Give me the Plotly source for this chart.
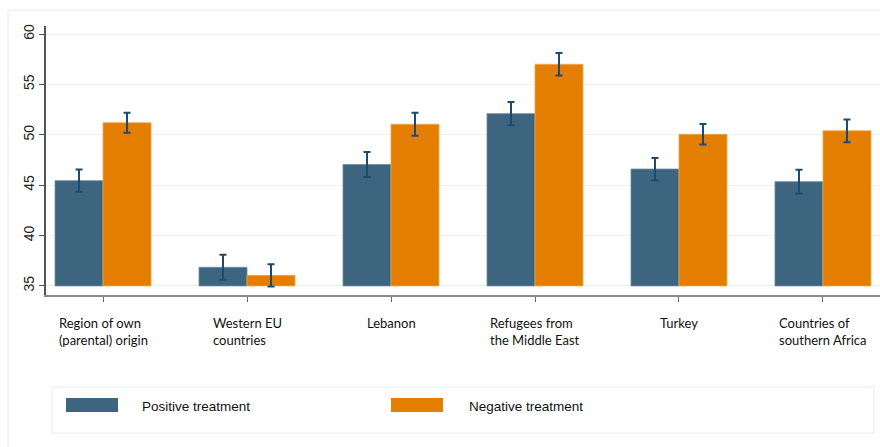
import plotly.graph_objects as go

# Survey categories (x axis) and series
categories = [
    "Region of own<br>(parental) origin",
    "Western EU<br>countries",
    "Lebanon",
    "Refugees from<br>the Middle East",
    "Turkey",
    "Countries of<br>southern Africa",
]
series_names = ["Positive treatment", "Negative treatment"]

positive_mean = [45.45, 36.85, 47.05, 52.10, 46.60, 45.35]
positive_ci = [1.10, 1.24, 1.25, 1.15, 1.10, 1.17]
negative_mean = [51.20, 36.05, 51.05, 57.00, 50.05, 50.40]
negative_ci = [1.00, 1.10, 1.15, 1.12, 1.02, 1.13]

y_ticks = [35, 40, 45, 50, 55, 60]
baseline = 35

BLUE = "#3e6580"
ORANGE = "#e37e00"
ERR = "#1d4a70"

W, H = 880, 447
PL, PR, PT, PB = 46, 880, 26, 295


def px(x):
    return (x - PL) / (PR - PL)


def py(y):
    return (PB - y) / (PB - PT)


fig = go.Figure()
for name, means, ci, color, edge in [
    (series_names[0], positive_mean, positive_ci, BLUE, "#6c8aa0"),
    (series_names[1], negative_mean, negative_ci, ORANGE, "#f0a850"),
]:
    fig.add_trace(go.Bar(
        x=categories,
        y=[m - baseline for m in means],
        base=baseline,
        name=name,
        marker=dict(color=color, line=dict(color=edge, width=0.8)),
        error_y=dict(type="data", array=ci, symmetric=True,
                     color=ERR, thickness=2, width=3.5),
        showlegend=False,
    ))

fig.update_layout(
    width=W, height=H,
    margin=dict(l=PL, r=W - PR, t=PT, b=H - PB),
    paper_bgcolor="white", plot_bgcolor="white",
    barmode="group", bargap=1 / 3, bargroupgap=0,
    font=dict(family="Liberation Sans Narrow, Liberation Sans, Arial", color="#222"),
)

fig.update_xaxes(
    range=[-0.396, 5.396],
    showticklabels=False,
    ticks="outside", ticklen=5, tickwidth=1.2, tickcolor="#666",
    showline=True, linecolor="#8a8a8a", linewidth=2,
    showgrid=False, zeroline=False,
)
fig.update_yaxes(
    range=[34.1, 60.8],
    tickvals=y_ticks,
    tickangle=-90,
    tickfont=dict(size=14, family="Liberation Sans Narrow, Liberation Sans, Arial", color="#222"),
    ticks="outside", ticklen=5, tickwidth=1.2, tickcolor="#555",
    showline=True, linecolor="#555", linewidth=1.5,
    showgrid=True, gridcolor="#eaf2f2", gridwidth=1,
    zeroline=False,
)

# Category labels: two-line blocks, lines left-aligned
for cat in categories:
    fig.add_annotation(
        x=cat, xref="x", y=py(313), yref="paper",
        text=cat, showarrow=False, xanchor="center", yanchor="top",
        align="left", font=dict(family="Lato, Open Sans", size=13, color="#111"),
    )

shapes = []
# Outer frame
shapes.append(dict(type="rect", xref="paper", yref="paper",
                   x0=px(8), x1=px(890), y0=py(470), y1=py(10),
                   line=dict(color="#e3ecec", width=1), fillcolor="rgba(0,0,0,0)", layer="below"))
# Legend box
shapes.append(dict(type="rect", xref="paper", yref="paper",
                   x0=px(52), x1=px(874), y0=py(433), y1=py(387),
                   line=dict(color="#e6eeee", width=1), fillcolor="white"))
# Legend swatches and labels
for name, color, sx, tx in [(series_names[0], BLUE, 66, 140), (series_names[1], ORANGE, 391, 467)]:
    shapes.append(dict(type="rect", xref="paper", yref="paper",
                       x0=px(sx), x1=px(sx + 52), y0=py(412), y1=py(398),
                       line=dict(width=0), fillcolor=color))
    fig.add_annotation(
        x=px(tx), xref="paper", y=py(406), yref="paper",
        text=name, showarrow=False, xanchor="left", yanchor="middle",
        font=dict(family="Liberation Sans, Arial", size=13.5, color="#111"),
    )
fig.update_layout(shapes=shapes)

fig.write_html("out.html")
